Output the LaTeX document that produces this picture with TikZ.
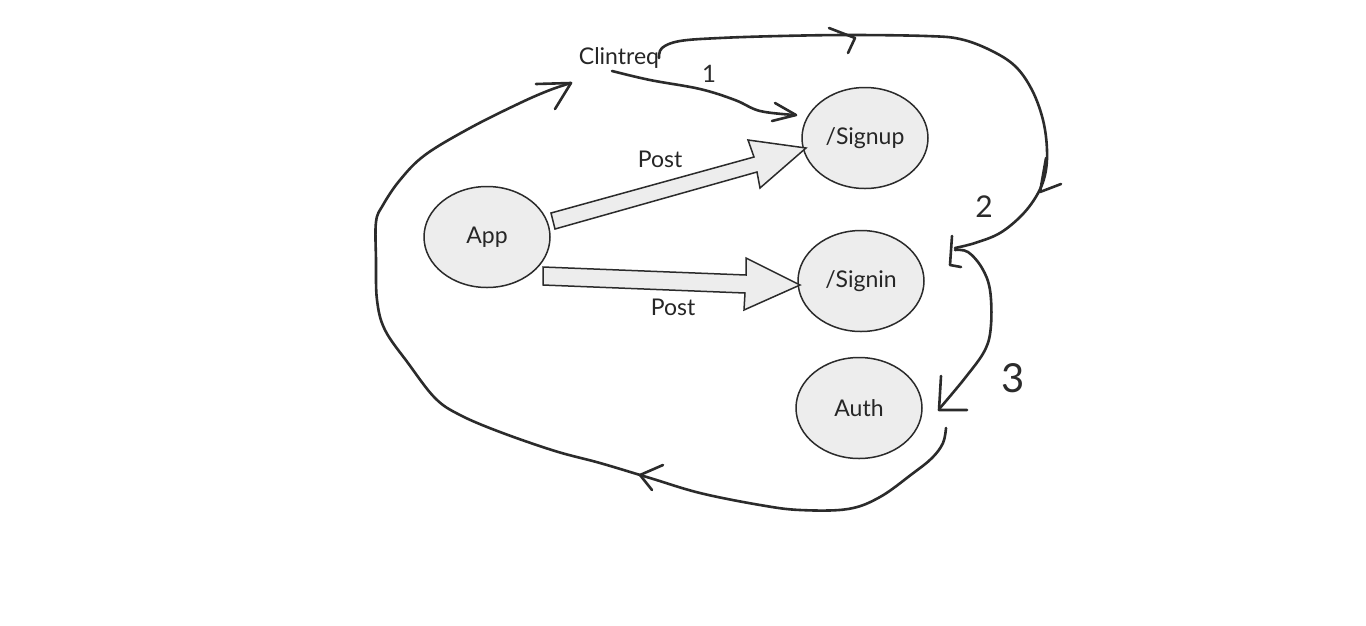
\documentclass[tikz,border=0pt]{standalone}
\usepackage{fontspec}
\setmainfont{Lato}
\usetikzlibrary{shapes.geometric}
\definecolor{ink}{HTML}{2B2B2B}
\definecolor{bubble}{HTML}{EDEDED}
\begin{document}
\begin{tikzpicture}[x=1pt,y=-1pt,
 bub/.style={ellipse, draw=ink, line width=1.5pt, fill=bubble, minimum width=126pt, minimum height=101pt, inner sep=0pt, font=\fontsize{23}{26}\selectfont, text=black!85},
 hand/.style={draw=ink, line width=2.6pt, line cap=round, line join=round},
 blk/.style={draw=ink, line width=1.5pt, fill=bubble, line join=miter},
 lbl/.style={font=\fontsize{23}{26}\selectfont, text=black!85, inner sep=0pt},
 num/.style={font=\fontsize{30}{32}\selectfont, text=ink, inner sep=0pt}]
\useasboundingbox[fill=white] (0,0) rectangle (1366,625);

\node[bub] (app) at (487,237) {App};
\node[bub] (signup) at (865,138) {/Signup};
\node[bub] (signin) at (861,281) {/Signin};
\node[bub] (auth) at (859,408) {Auth};
\node[lbl] (clin) at (619,58) {Clintreq};
\node[lbl] (post1) at (660,159) {Post};
\node[lbl] (post2) at (673,307) {Post};

% block arrows
\draw[blk] (551,213) -- (754,157) -- (748,140) -- (806,148) -- (760,188) -- (757,172) -- (555,229) -- cycle;
\draw[blk] (543,267) -- (746,275) -- (746,258) -- (800,285) -- (744,310) -- (745,293) -- (543,285) -- cycle;

% connector endpoints
\coordinate (c1s) at (612,71);
\coordinate (c1e) at (795,115);
\coordinate (c2s) at (659,58);
\coordinate (c2e) at (955,248);
\coordinate (c3s) at (955,250);
\coordinate (c3e) at (940,408);
\coordinate (c4s) at (946,428);
\coordinate (c4e) at (571,83);

% 1: Clintreq -> /Signup
\draw[hand] plot[smooth, tension=0.6] coordinates {(c1s) (650,80) (700,89) (735,100) (760,111) (c1e)};
\draw[hand] (775,103) -- (796,115) -- (772,121);
\node[num, font=\fontsize{24}{26}\selectfont] (n1) at (709,74) {1};

% 2: Clintreq -> top loop -> /Signin
\draw[hand] plot[smooth, tension=0.6] coordinates {(c2s) (662,48) (680,41) (720,38) (780,36) (850,35) (926,36) (960,39) (990,50) (1015,66) (1032,90) (1043,120) (1047,150) (1045,175) (1037,195) (1022,215) (1000,233) (975,243) (c2e)};
\draw[hand] (829,28) -- (855,38) -- (848,53);
\draw[hand] (1046,158) -- (1040,192) -- (1061,184);
\draw[hand] (952,236) -- (950,265) -- (961,267);
\node[num] (n2) at (984,207) {2};

% 3: /Signin -> Auth
\draw[hand] plot[smooth, tension=0.6] coordinates {(c3s) (968,252) (982,268) (990,290) (991,325) (985,350) (965,378) (c3e)};
\draw[hand] (941,376) -- (939,410) -- (967,410);
\node[num, font=\fontsize{40}{42}\selectfont] (n3) at (1013,378) {3};

% 4: Auth -> back round to Clintreq
\draw[hand] plot[smooth, tension=0.6] coordinates {(c4s) (943,443) (932,458) (912,474) (880,497) (848,509) (800,510) (760,505) (700,493) (650,478) (600,463) (555,451) (500,432) (460,415) (435,398) (408,363) (385,330) (377,300) (376,260) (376,222) (383,205) (400,180) (425,155) (470,128) (520,103) (550,90) (c4e)};
\draw[hand] (536,84) -- (571,83) -- (555,109);
\draw[hand] (663,465) -- (640,475) -- (652,490);
\end{tikzpicture}
\end{document}
